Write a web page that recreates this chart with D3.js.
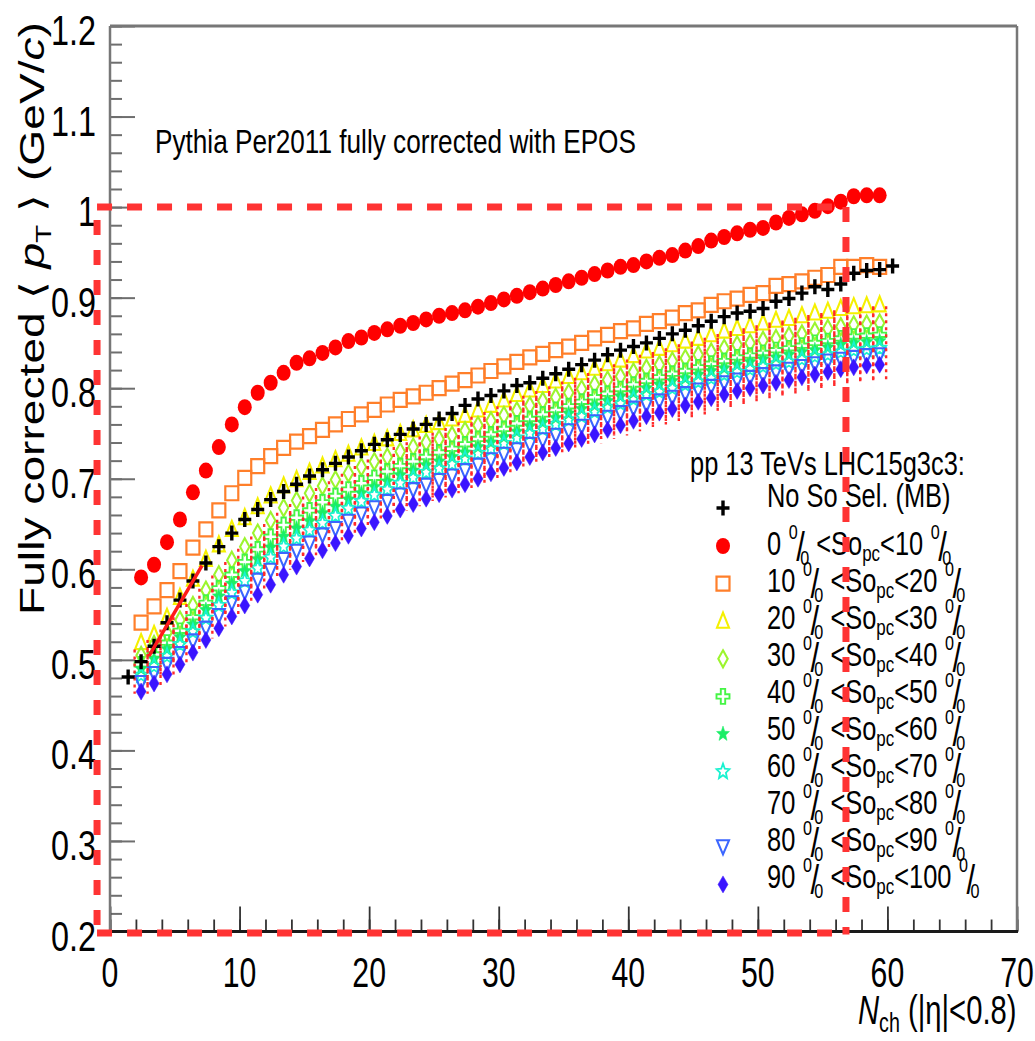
<!DOCTYPE html>
<html>
<head>
<meta charset="utf-8">
<script src="https://cdn.jsdelivr.net/npm/d3@7"></script>
<style>
  html, body { margin: 0; padding: 0; background: #fff; }
  svg { display: block; }
</style>
</head>
<body>
<svg id="chart" width="1035" height="1041"></svg>
<script>
// ---------------------------------------------------------------------------
// Mean transverse momentum vs charged multiplicity, sliced in spherocity (So)
// percentiles. Pythia Per2011, fully corrected with EPOS.
// ---------------------------------------------------------------------------

// Multiplicity bins (lower edges); markers sit slightly inside each bin
const nchMB = d3.range(1, 61);   // minimum-bias sample: Nch = 1 .. 60
const nchSo = d3.range(2, 60);   // spherocity classes: Nch = 2 .. 59
const binShift = 0.4;

// <pT> (GeV/c), minimum bias (no spherocity selection)
const meanPtMB = [
  .481, .498, .515, .541, .566, .587, .607, .625, .640, .655,
  .666, .677, .686, .694, .703, .710, .717, .724, .731, .738,
  .743, .749, .755, .760, .766, .772, .781, .788, .792, .797,
  .803, .806, .811, .816, .821, .826, .831, .837, .842, .846,
  .850, .855, .860, .864, .869, .874, .879, .883, .885, .888,
  .896, .899, .905, .912, .909, .915, .927, .930, .931, .935
];

// <pT> (GeV/c) per spherocity class, Nch = 2 .. 59
const meanPt0to10 = [
  .591, .605, .630, .655, .685, .709, .735, .760,
  .779, .795, .806, .817, .828, .833, .839, .845, .852, .856,
  .861, .865, .869, .872, .876, .880, .883, .886, .890, .894,
  .898, .902, .906, .910, .914, .918, .922, .926, .930, .934,
  .936, .940, .944, .947, .952, .957, .963, .967, .971, .975,
  .977, .983, .988, .992, .996, 1.001, 1.006, 1.012, 1.013, 1.013
];
const meanPt10to20 = [
  .541, .559, .577, .598, .624, .644, .665, .684,
  .701, .714, .725, .734, .741, .747, .754, .760, .766, .771,
  .776, .782, .787, .791, .795, .800, .805, .809, .814, .819,
  .824, .829, .834, .838, .842, .846, .850, .855, .859, .863,
  .866, .871, .874, .878, .883, .886, .892, .896, .899, .903,
  .905, .913, .915, .918, .922, .925, .934, .934, .936, .934
];
const meanPt20to30 = [
  .519, .528, .547, .569, .589, .611, .627, .644,
  .657, .669, .681, .692, .699, .707, .714, .721, .727, .734,
  .739, .744, .750, .754, .759, .762, .766, .770, .776, .781,
  .787, .793, .798, .803, .808, .813, .817, .822, .827, .831,
  .836, .841, .844, .848, .852, .855, .859, .863, .866, .869,
  .872, .875, .877, .880, .883, .885, .888, .890, .891, .892
];
const meanPt30to40 = [
  .505, .517, .530, .544, .560, .577, .594, .610,
  .625, .640, .654, .668, .676, .684, .692, .699, .706, .713,
  .719, .724, .730, .735, .740, .744, .748, .753, .759, .764,
  .770, .775, .781, .786, .790, .795, .799, .804, .809, .813,
  .818, .822, .826, .830, .833, .837, .840, .844, .848, .850,
  .853, .855, .858, .860, .863, .866, .868, .870, .871, .872
];
const meanPt40to50 = [
  .495, .506, .519, .532, .547, .563, .579, .594,
  .608, .622, .636, .649, .657, .665, .674, .681, .688, .695,
  .701, .708, .714, .719, .724, .729, .733, .738, .744, .749,
  .755, .761, .766, .771, .776, .780, .785, .790, .794, .799,
  .804, .808, .812, .816, .819, .823, .827, .830, .834, .836,
  .839, .842, .844, .847, .850, .852, .855, .857, .858, .859
];
const meanPt50to60 = [
  .490, .501, .512, .525, .539, .555, .570, .584,
  .598, .611, .624, .636, .645, .653, .662, .669, .677, .684,
  .691, .697, .704, .709, .715, .719, .724, .729, .735, .740,
  .746, .752, .758, .762, .767, .772, .777, .781, .786, .791,
  .795, .800, .804, .808, .811, .815, .819, .822, .826, .829,
  .832, .834, .837, .840, .842, .845, .848, .850, .851, .852
];
const meanPt60to70 = [
  .483, .493, .504, .517, .531, .546, .560, .574,
  .587, .601, .613, .625, .634, .643, .651, .659, .667, .675,
  .682, .688, .695, .701, .707, .711, .716, .722, .728, .733,
  .739, .745, .750, .755, .760, .765, .769, .774, .779, .783,
  .788, .793, .796, .800, .804, .807, .811, .815, .818, .821,
  .824, .827, .829, .832, .835, .837, .840, .842, .843, .844
];
const meanPt70to80 = [
  .487, .497, .508, .521, .535, .551, .565, .579,
  .593, .606, .619, .631, .640, .648, .657, .664, .672, .680,
  .687, .693, .700, .705, .711, .715, .720, .726, .732, .737,
  .743, .749, .754, .759, .764, .769, .773, .778, .783, .787,
  .792, .797, .800, .804, .808, .811, .815, .819, .822, .825,
  .828, .831, .833, .836, .839, .841, .844, .846, .847, .848
];
const sysRel70to80 = 0.05;   // relative systematic band drawn for the 70-80 % class
const meanPt80to90 = [
  .475, .485, .495, .507, .521, .535, .549, .563,
  .575, .588, .599, .611, .620, .629, .638, .645, .653, .661,
  .668, .675, .682, .688, .693, .698, .703, .709, .715, .721,
  .727, .732, .738, .743, .748, .753, .758, .763, .768, .773,
  .778, .782, .786, .790, .794, .798, .802, .806, .809, .812,
  .815, .818, .821, .824, .827, .830, .832, .834, .836, .837
];
const meanPt90to100 = [
  .465, .474, .484, .495, .508, .522, .535, .548,
  .560, .572, .583, .594, .603, .612, .621, .629, .637, .645,
  .652, .659, .666, .672, .678, .683, .688, .694, .700, .706,
  .712, .718, .724, .729, .734, .739, .744, .749, .754, .759,
  .764, .769, .773, .777, .781, .785, .789, .793, .797, .800,
  .803, .806, .809, .812, .815, .818, .821, .823, .825, .826
];

// Linear fit to the minimum-bias points at low multiplicity
const fitNch = [3.0, 7.1];
const fitPt = [0.504, 0.604];

// Highlighted region (dashed frame)
const regionNch = [-1.0, 56.8];
const regionPt = [0.2, 1.0];

// Axis ticks
const yMajorTicks = [0.2, 0.3, 0.4, 0.5, 0.6, 0.7, 0.8, 0.9, 1.0, 1.1, 1.2];
const yTickLabels = ["0.2", "0.3", "0.4", "0.5", "0.6", "0.7", "0.8", "0.9", "1", "1.1", "1.2"];
const xMajorTicks = [0, 10, 20, 30, 40, 50, 60, 70];
const xTickLabels = ["0", "10", "20", "30", "40", "50", "60", "70"];

// Spherocity classes (percentile ranges)
const soLow  = [0, 10, 20, 30, 40, 50, 60, 70, 80, 90];
const soHigh = [10, 20, 30, 40, 50, 60, 70, 80, 90, 100];
const soValues = [meanPt0to10, meanPt10to20, meanPt20to30, meanPt30to40, meanPt40to50,
                  meanPt50to60, meanPt60to70, meanPt70to80, meanPt80to90, meanPt90to100];
const soMarkers = ["fullCircle", "openSquare", "openTriangleUp", "openDiamond", "openCross",
                   "fullStar", "openStar", "none", "openTriangleDown", "fullDiamond"];
const soColors = ["#ff0000", "#ff7f2a", "#f5f000", "#9cf52e", "#45f545",
                  "#1aee66", "#19f2d0", "#ffffff", "#3b66ff", "#3a14ff"];

// ---------------------------------------------------------------------------
const svg = d3.select("#chart");
const FONT = "'Liberation Sans', Arial, Helvetica, sans-serif";
const SX = 0.77;   // horizontal squeeze of the lettering

const x = d3.scaleLinear().domain([0, 70]).range([110, 1017]);
const y = d3.scaleLinear().domain([0.2, 1.2]).range([931.5, 26]);

function squeezedText(parent, px, py, size, anchor, sx) {
  const g = parent.append("g")
    .attr("transform", `translate(${px},${py}) scale(${sx === undefined ? SX : sx},1)`);
  return g.append("text")
    .attr("font-family", FONT)
    .attr("font-size", size)
    .attr("text-anchor", anchor || "start")
    .attr("fill", "#000");
}

function starPath(R, r, squeeze) {
  const pts = [];
  for (let k = 0; k < 10; k++) {
    const a = -Math.PI / 2 + k * Math.PI / 5;
    const rr = k % 2 === 0 ? R : r;
    pts.push([(rr * Math.cos(a) * squeeze).toFixed(2), (rr * Math.sin(a)).toFixed(2)]);
  }
  return "M" + pts.map(p => p.join(",")).join("L") + "Z";
}

const markerShapes = {
  cross:            { d: "M-6.5,0H6.5M0,-7.5V7.5", fill: false, width: 3.4 },
  openSquare:       { d: "M-6.5,-7H6.5V7H-6.5Z", fill: false, width: 2.2 },
  openTriangleUp:   { d: "M0,-8.5L6,6.5L-6,6.5Z", fill: false, width: 2.1 },
  openDiamond:      { d: "M0,-8.5L4.7,0L0,8.5L-4.7,0Z", fill: false, width: 2.1 },
  openCross:        { d: "M-2.2,-7.5H2.2V-2.2H6.5V2.2H2.2V7.5H-2.2V2.2H-6.5V-2.2H-2.2Z", fill: false, width: 1.9 },
  fullStar:         { d: starPath(8, 3.4, 0.85), fill: true, width: 0.5 },
  openStar:         { d: starPath(8, 3.6, 0.85), fill: false, width: 1.8 },
  openTriangleDown: { d: "M0,7.5L6,-6.5L-6,-6.5Z", fill: false, width: 2.1 },
  fullDiamond:      { d: "M0,-8.5L5,0L0,8.5L-5,0Z", fill: true, width: 0.5 }
};

function drawMarker(sel, kind, color) {
  if (kind === "none") return sel;
  if (kind === "fullCircle") {
    return sel.append("ellipse").attr("rx", 7).attr("ry", 8).attr("fill", color);
  }
  const s = markerShapes[kind];
  return sel.append("path")
    .attr("d", s.d)
    .attr("fill", s.fill ? color : "none")
    .attr("stroke", color)
    .attr("stroke-width", s.width)
    .attr("stroke-linejoin", "miter");
}

// ---------------------------------------------------------------------------
// Frame and axes
const axes = svg.append("g");

const yMinor = d3.range(0.2, 1.2001, 0.02).map(v => +v.toFixed(2));
const xMinor = d3.range(0, 70.001, 2);

axes.append("g").attr("transform", `translate(${x(0)},0)`)
  .call(d3.axisLeft(y).tickValues(yMinor).tickSize(-12).tickFormat(""))
  .call(g => g.select(".domain").remove())
  .call(g => g.selectAll("line").attr("stroke", "#6e6e6e").attr("stroke-width", 2));
axes.append("g").attr("transform", `translate(${x(0)},0)`)
  .call(d3.axisLeft(y).tickValues(yMajorTicks).tickSize(-25).tickFormat(""))
  .call(g => g.select(".domain").remove())
  .call(g => g.selectAll("line").attr("stroke", "#6e6e6e").attr("stroke-width", 2));

axes.append("g").attr("transform", `translate(0,${y(0.2)})`)
  .call(d3.axisBottom(x).tickValues(xMinor).tickSize(-12).tickFormat(""))
  .call(g => g.select(".domain").remove())
  .call(g => g.selectAll("line").attr("stroke", "#333").attr("stroke-width", 1.8));
axes.append("g").attr("transform", `translate(0,${y(0.2)})`)
  .call(d3.axisBottom(x).tickValues(xMajorTicks).tickSize(-25).tickFormat(""))
  .call(g => g.select(".domain").remove())
  .call(g => g.selectAll("line").attr("stroke", "#333").attr("stroke-width", 1.8));

// frame
axes.append("line").attr("x1", x(0)).attr("x2", x(0)).attr("y1", y(1.2)).attr("y2", y(0.2))
  .attr("stroke", "#777").attr("stroke-width", 2.5);
axes.append("line").attr("x1", x(0)).attr("x2", x(70)).attr("y1", y(1.2)).attr("y2", y(1.2))
  .attr("stroke", "#777").attr("stroke-width", 3);
axes.append("line").attr("x1", x(70)).attr("x2", x(70)).attr("y1", y(1.2)).attr("y2", y(0.2))
  .attr("stroke", "#777").attr("stroke-width", 2.5);
axes.append("line").attr("x1", x(0) - 1).attr("x2", x(70) + 1).attr("y1", y(0.2)).attr("y2", y(0.2))
  .attr("stroke", "#1a1a1a").attr("stroke-width", 3);

// tick labels
yMajorTicks.forEach((v, i) => {
  squeezedText(axes, 96, y(v) + 19, 42, "end").text(yTickLabels[i]);
});
xMajorTicks.forEach((v, i) => {
  squeezedText(axes, x(v), 987, 42, "middle", 0.72).text(xTickLabels[i]);
});

// y-axis title
const yTitle = axes.append("g").attr("transform", "translate(44,615) rotate(-90) scale(1,0.82)")
  .append("text")
  .attr("font-family", FONT).attr("font-size", 42).attr("fill", "#000")
  .attr("textLength", 593).attr("lengthAdjust", "spacingAndGlyphs");
yTitle.append("tspan").text("Fully corrected \u27E8 ");
yTitle.append("tspan").attr("font-style", "italic").text("p");
yTitle.append("tspan").attr("font-size", 27).attr("dy", 9).text("T");
yTitle.append("tspan").attr("dy", -9).text(" \u27E9 (GeV/");
yTitle.append("tspan").attr("font-style", "italic").text("c");
yTitle.append("tspan").text(")");

// x-axis title
const xTitle = squeezedText(axes, 858, 1024, 40, "start", 0.73);
xTitle.append("tspan").attr("font-style", "italic").text("N");
xTitle.append("tspan").attr("font-size", 27).attr("dy", 8).text("ch");
xTitle.append("tspan").attr("dy", -8).text(" (|\u03B7|<0.8)");

// caption
squeezedText(axes, 155, 153, 34, "start").text("Pythia Per2011 fully corrected with EPOS");

// ---------------------------------------------------------------------------
// Data markers
const plot = svg.append("g");

soValues.forEach((vals, s) => {
  if (soMarkers[s] === "none") return;
  const g = plot.append("g");
  vals.forEach((v, i) => {
    const m = g.append("g").attr("transform", `translate(${x(nchSo[i] + binShift)},${y(v)})`);
    drawMarker(m, soMarkers[s], soColors[s]);
  });
});

// 70-80 % class: dotted systematic boxes (sides only)
const sysG = plot.append("g")
  .attr("stroke", "#ff2a2a").attr("stroke-width", 2.4).attr("stroke-dasharray", "3,4").attr("fill", "none");
meanPt70to80.forEach((v, i) => {
  const c = nchSo[i] + binShift;
  [c - 0.5, c + 0.5].forEach(xe => {
    sysG.append("line")
      .attr("x1", x(xe)).attr("x2", x(xe))
      .attr("y1", y(v * (1 + sysRel70to80))).attr("y2", y(v * (1 - sysRel70to80)));
  });
});

// minimum bias on top
const mbG = plot.append("g");
meanPtMB.forEach((v, i) => {
  const m = mbG.append("g").attr("transform", `translate(${x(nchMB[i] + binShift)},${y(v)})`);
  drawMarker(m, "cross", "#000");
});

// low-multiplicity fit
plot.append("path")
  .datum(fitNch.map((n, i) => [n, fitPt[i]]))
  .attr("d", d3.line().x(d => x(d[0])).y(d => y(d[1])))
  .attr("stroke", "#ff1a1a").attr("stroke-width", 3.5).attr("fill", "none");

// ---------------------------------------------------------------------------
// Legend
const legend = svg.append("g");
squeezedText(legend, 690, 475, 33, "start").text("pp 13 TeVs LHC15g3c3:");

drawMarker(legend.append("g").attr("transform", "translate(723,508)"), "cross", "#000");
squeezedText(legend, 767, 507, 33, "start").text("No So Sel. (MB)");

// per-cent sign written as a raised 0, a slash and a lowered 0
function percentSign(t) {
  t.append("tspan").attr("font-size", 21).attr("dx", 10).attr("dy", -16).text("0");
  t.append("tspan").attr("font-size", 40).attr("dx", -2).attr("dy", 22).text("/");
  t.append("tspan").attr("font-size", 21).attr("dx", -6).attr("dy", 4).text("0");
}

soLow.forEach((lo, i) => {
  const my = 546 + 37.6 * i;
  drawMarker(legend.append("g").attr("transform", `translate(723,${my})`), soMarkers[i], soColors[i]);
  const t = squeezedText(legend, 767, 555 + 37 * i, 33, "start");
  t.append("tspan").text(`${lo}`);
  percentSign(t);
  t.append("tspan").attr("font-size", 33).attr("dy", -10).text(" <So");
  t.append("tspan").attr("font-size", 22).attr("dy", 6).text("pc");
  t.append("tspan").attr("font-size", 33).attr("dy", -6).text(`<${soHigh[i]}`);
  percentSign(t);
});

// ---------------------------------------------------------------------------
// Dashed region frame (drawn last, over everything)
const region = svg.append("g")
  .attr("stroke", "#ff3333").attr("stroke-width", 7).attr("stroke-dasharray", "15,15").attr("fill", "none");
const rx0 = x(regionNch[0]), rx1 = x(regionNch[1]);
const ry0 = y(regionPt[0]), ry1 = y(regionPt[1]);
region.append("line").attr("x1", rx0).attr("x2", rx1).attr("y1", ry1).attr("y2", ry1);
region.append("line").attr("x1", rx0).attr("x2", rx0).attr("y1", ry1).attr("y2", ry0 + 3)
  .attr("stroke-dashoffset", 17);
region.append("line").attr("x1", rx1).attr("x2", rx1).attr("y1", ry1).attr("y2", ry0 + 3);
region.append("line").attr("x1", rx0).attr("x2", rx1).attr("y1", ry0 + 1.5).attr("y2", ry0 + 1.5);
</script>
</body>
</html>
